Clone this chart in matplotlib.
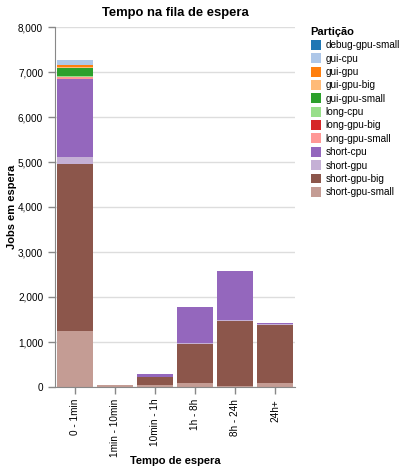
import matplotlib
matplotlib.use('Agg')
import matplotlib.pyplot as plt
from matplotlib.patches import Patch
from matplotlib.ticker import FuncFormatter, MultipleLocator
import numpy as np

plt.rcParams['font.family'] = ['Liberation Sans', 'DejaVu Sans']

categories = ['0 - 1min', '1min - 10min', '10min - 1h', '1h - 8h', '8h - 24h', '24h+']

partitions = ['debug-gpu-small', 'gui-cpu', 'gui-gpu', 'gui-gpu-big', 'gui-gpu-small',
              'long-cpu', 'long-gpu-big', 'long-gpu-small', 'short-cpu', 'short-gpu',
              'short-gpu-big', 'short-gpu-small']

colors = ['#1f77b4', '#aec7e8', '#ff7f0e', '#ffbb78', '#2ca02c', '#98df8a',
          '#d62728', '#ff9896', '#9467bd', '#c5b0d5', '#8c564b', '#c49c94']

# jobs per partition, one value per wait-time bin
jobs = {
    'debug-gpu-small': [0, 0, 0, 0, 0, 0],
    'gui-cpu':         [125, 0, 0, 0, 0, 0],
    'gui-gpu':         [40, 0, 0, 0, 0, 0],
    'gui-gpu-big':     [15, 0, 0, 0, 0, 0],
    'gui-gpu-small':   [185, 0, 0, 0, 0, 0],
    'long-cpu':        [20, 0, 0, 0, 0, 0],
    'long-gpu-big':    [0, 0, 0, 0, 0, 0],
    'long-gpu-small':  [40, 0, 0, 0, 0, 0],
    'short-cpu':       [1725, 0, 60, 800, 1090, 15],
    'short-gpu':       [160, 10, 15, 20, 20, 20],
    'short-gpu-big':   [3710, 0, 170, 870, 1440, 1295],
    'short-gpu-small': [1250, 40, 45, 90, 30, 90],
}

W, H = 407, 472
fig = plt.figure(figsize=(W / 100, H / 100), dpi=100)
ax = fig.add_axes([55 / W, (H - 387) / H, 240 / W, 360 / H])

x = np.arange(len(categories))
bottom = np.zeros(len(categories))
# stacked from the last legend entry upward
for name, col in reversed(list(zip(partitions, colors))):
    vals = np.array(jobs[name], dtype=float)
    ax.bar(x, vals, bottom=bottom, width=0.9, color=col, linewidth=0, zorder=2)
    bottom += vals

ax.set_xlim(-0.5, len(categories) - 0.5)
ax.set_ylim(0, 8000)
ax.yaxis.set_major_locator(MultipleLocator(1000))
ax.yaxis.set_major_formatter(FuncFormatter(lambda v, p: '{:,.0f}'.format(v)))
ax.set_xticks(x)
ax.set_xticklabels(categories, rotation=90)

ax.grid(axis='y', color='#dddddd', linewidth=1, zorder=0)
ax.set_axisbelow(True)
for s in ['top', 'right']:
    ax.spines[s].set_visible(False)
for s in ['left', 'bottom']:
    ax.spines[s].set_color('#888888')
ax.tick_params(colors='#888888', length=5, width=1, labelcolor='black', labelsize=7.2)

ax.set_title('Tempo na fila de espera', fontsize=9.4, fontweight='bold', pad=8)
fig.text(12 / W, 1 - 207 / H, 'Jobs em espera', rotation=90, fontsize=8,
         fontweight='bold', ha='center', va='center')
fig.text(175 / W, 1 - 461 / H, 'Tempo de espera', fontsize=8,
         fontweight='bold', ha='center', va='center')

handles = [Patch(facecolor=c, edgecolor='none', label=n) for n, c in zip(partitions, colors)]
leg = ax.legend(handles=handles, title='Partição', loc='upper left',
                bbox_to_anchor=(1.065, 1.0), frameon=False, fontsize=7.2,
                handlelength=1.0, handleheight=1.15, handletextpad=0.5,
                labelspacing=0.3, borderaxespad=0.0, borderpad=0.0)
leg.get_title().set_fontsize(8)
leg.get_title().set_fontweight('bold')
leg._legend_box.align = 'left'

fig.savefig('out.png', dpi=100)
